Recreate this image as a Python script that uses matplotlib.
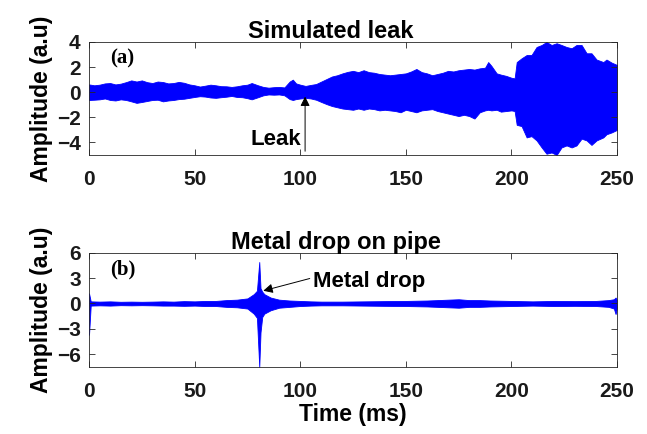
import matplotlib

matplotlib.use("Agg")
import matplotlib.pyplot as plt

# (a) simulated leak: envelope of the dense waveform
leak_t = [0, 2.5, 5, 7.5, 10, 12.5, 15, 17.5, 20, 22.5, 25, 27.5, 30, 32.5, 35, 37.5, 40,
          42.5, 45, 47.5, 50, 52.5, 55, 57.5, 60, 62.5, 65, 67.5, 70, 72.5, 75, 77, 80,
          82.5, 85, 87.5, 90, 92.5, 95, 96.5, 98, 100, 102.5, 105, 107.5, 110, 112.5,
          115, 117.5, 120, 122.5, 125, 127.5, 130, 132.5, 135, 137.5, 140, 142.5, 145,
          147.5, 150, 152.5, 155, 157.5, 160, 162.5, 165, 167.5, 170, 172.5, 175, 177.5,
          180, 182.5, 185, 187.5, 189, 190.5, 193, 195, 197.5, 200, 201.5, 202.5, 204.8,
          207.2, 209.5, 211.9, 214.3, 216.6, 219, 221.4, 223.7, 226.1, 228.5, 230.8,
          233.2, 235.6, 237.9, 240.3, 243.5, 245, 247.5, 250]
leak_upper = [0.62, 0.55, 0.6, 0.7, 0.73, 0.62, 0.68, 0.8, 0.94, 0.85, 0.94, 0.8, 0.73,
              0.85, 0.81, 0.7, 0.73, 0.82, 0.75, 0.62, 0.55, 0.45, 0.52, 0.6, 0.55, 0.48,
              0.47, 0.42, 0.47, 0.55, 0.6, 0.73, 0.55, 0.42, 0.36, 0.4, 0.42, 0.38, 0.85,
              1.0, 0.7, 0.6, 0.5, 0.58, 0.65, 0.85, 1.05, 1.25, 1.35, 1.5, 1.62, 1.7, 1.6,
              1.75, 1.6, 1.55, 1.45, 1.4, 1.35, 1.4, 1.45, 1.5, 1.65, 1.85, 1.6, 1.5,
              1.35, 1.45, 1.55, 1.7, 1.65, 1.75, 1.8, 1.85, 1.8, 1.9, 1.95, 2.4, 2.1, 1.5,
              1.4, 1.3, 1.15, 1.1, 2.4, 2.7, 2.96, 2.96, 3.6, 3.76, 4.0, 3.76, 3.9, 3.76,
              3.6, 3.5, 3.76, 3.76, 3.1, 3.1, 2.6, 2.4, 2.6, 2.35, 2.17]
leak_lower = [-0.62, -0.6, -0.57, -0.5, -0.62, -0.66, -0.57, -0.62, -0.73, -0.85, -0.78,
              -0.7, -0.62, -0.6, -0.73, -0.66, -0.62, -0.55, -0.52, -0.45, -0.38, -0.32,
              -0.35, -0.42, -0.45, -0.4, -0.36, -0.3, -0.38, -0.4, -0.48, -0.57, -0.4,
              -0.25, -0.18, -0.2, -0.18, -0.25, -0.55, -0.62, -0.55, -0.5, -0.45, -0.5,
              -0.6, -0.78, -0.95, -1.1, -1.2, -1.3, -1.35, -1.4, -1.3, -1.4, -1.3, -1.35,
              -1.45, -1.4, -1.45, -1.5, -1.6, -1.4, -1.5, -1.6, -1.45, -1.4, -1.35, -1.5,
              -1.6, -1.7, -1.8, -1.9, -1.8, -1.9, -2.1, -1.6, -1.45, -1.4, -1.45, -1.4,
              -1.55, -1.5, -1.45, -1.5, -2.6, -2.7, -3.6, -3.5, -3.84, -4.4, -4.9, -4.8,
              -5.0, -4.4, -4.24, -4.4, -4.24, -3.7, -3.84, -4.2, -3.84, -3.6, -3.35,
              -3.2, -3.0]

# (b) metal drop on pipe
drop_t = [0, 0.8, 5, 10, 15, 20, 25, 30, 35, 40, 45, 50, 55, 60, 65, 70, 75, 78, 79.5,
          80.6, 81.2, 82, 83, 86, 90, 95, 100, 105, 110, 120, 130, 140, 150, 160, 170,
          175, 180, 185, 190, 200, 210, 220, 230, 240, 246, 248.5, 249.3, 250]
drop_upper = [1.2, 0.25, 0.22, 0.25, 0.2, 0.22, 0.2, 0.22, 0.25, 0.22, 0.28, 0.25, 0.3,
              0.3, 0.4, 0.45, 0.6, 1.1, 1.5, 4.9, 1.8, 1.4, 1.1, 0.7, 0.45, 0.35, 0.3,
              0.25, 0.22, 0.22, 0.25, 0.28, 0.3, 0.35, 0.45, 0.5, 0.4, 0.4, 0.35, 0.3,
              0.25, 0.3, 0.28, 0.3, 0.4, 0.5, 0.7, 0.4]
drop_lower = [-3.7, -0.25, -0.22, -0.25, -0.2, -0.22, -0.2, -0.22, -0.25, -0.25, -0.28,
              -0.25, -0.3, -0.3, -0.4, -0.45, -0.6, -1.2, -1.7, -7.5, -3.4, -1.6, -1.2,
              -0.8, -0.5, -0.4, -0.3, -0.25, -0.22, -0.22, -0.25, -0.28, -0.3, -0.35,
              -0.45, -0.5, -0.4, -0.4, -0.35, -0.3, -0.25, -0.3, -0.28, -0.3, -0.4, -0.6,
              -1.25, -0.5]

x_ticks = [0, 50, 100, 150, 200, 250]
leak_yticks = [-4, -2, 0, 2, 4]
drop_yticks = [-6, -3, 0, 3, 6]

SANS = "Liberation Sans"
SERIF = "Liberation Serif"
BLUE = "#0000FF"
AXIS_GREY = "#262626"


def style_axes(ax, yticks, ylim):
    ax.set_xlim(0, 250)
    ax.set_ylim(*ylim)
    ax.set_xticks(x_ticks)
    ax.set_yticks(yticks)
    ax.tick_params(direction="in", top=True, right=True, length=4, width=0.6,
                   colors=AXIS_GREY, labelsize=15)
    ax.tick_params(axis="x", pad=11)
    ax.tick_params(axis="y", pad=6)
    for label in ax.get_xticklabels() + ax.get_yticklabels():
        label.set_fontfamily(SANS)
        label.set_fontweight("bold")
        label.set_color("#1a1a1a")
    for spine in ax.spines.values():
        spine.set_color(AXIS_GREY)
        spine.set_linewidth(0.6)


fig = plt.figure(figsize=(6.47, 4.34), dpi=100)
ax1 = fig.add_axes([0.1376, 0.6429, 0.8161, 0.2604])
ax2 = fig.add_axes([0.1376, 0.1544, 0.8161, 0.2634])

ax1.fill_between(leak_t, leak_lower, leak_upper, color=BLUE, lw=0.6)
style_axes(ax1, leak_yticks, (-5, 4))
ax1.set_title("Simulated leak", fontfamily=SANS, fontweight="bold", fontsize=17,
              x=0.458, pad=3)
ax1.set_ylabel("Amplitude (a.u)", fontfamily=SANS, fontweight="bold", fontsize=16.5,
               labelpad=3)
ax1.text(0.04, 0.85, "(a)", transform=ax1.transAxes, fontfamily=SERIF,
         fontweight="bold", fontsize=15, va="center", ha="left")
ax1.annotate("", xy=(102.3, -0.35), xytext=(102.3, -4.7),
             arrowprops=dict(arrowstyle="-|>", color="black", lw=0.7,
                             mutation_scale=14, shrinkA=0, shrinkB=0))
ax1.text(100.5, -3.8, "Leak", fontfamily=SANS, fontweight="bold", fontsize=16,
         ha="right", va="center")

ax2.fill_between(drop_t, drop_lower, drop_upper, color=BLUE, lw=0.6)
style_axes(ax2, drop_yticks, (-7.5, 6))
ax2.set_title("Metal drop on pipe", fontfamily=SANS, fontweight="bold", fontsize=17,
              x=0.467, pad=3)
ax2.set_ylabel("Amplitude (a.u)", fontfamily=SANS, fontweight="bold", fontsize=16.5,
               labelpad=3)
ax2.set_xlabel("Time (ms)", fontfamily=SANS, fontweight="bold", fontsize=16.5,
               labelpad=1)
ax2.text(0.04, 0.85, "(b)", transform=ax2.transAxes, fontfamily=SERIF,
         fontweight="bold", fontsize=15, va="center", ha="left")
ax2.annotate("", xy=(82.5, 1.5), xytext=(104.5, 2.95),
             arrowprops=dict(arrowstyle="-|>", color="black", lw=0.7,
                             mutation_scale=14, shrinkA=0, shrinkB=0))
ax2.text(106, 2.65, "Metal drop", fontfamily=SANS, fontweight="bold", fontsize=16,
         ha="left", va="center")

fig.savefig("out.png", dpi=100)
